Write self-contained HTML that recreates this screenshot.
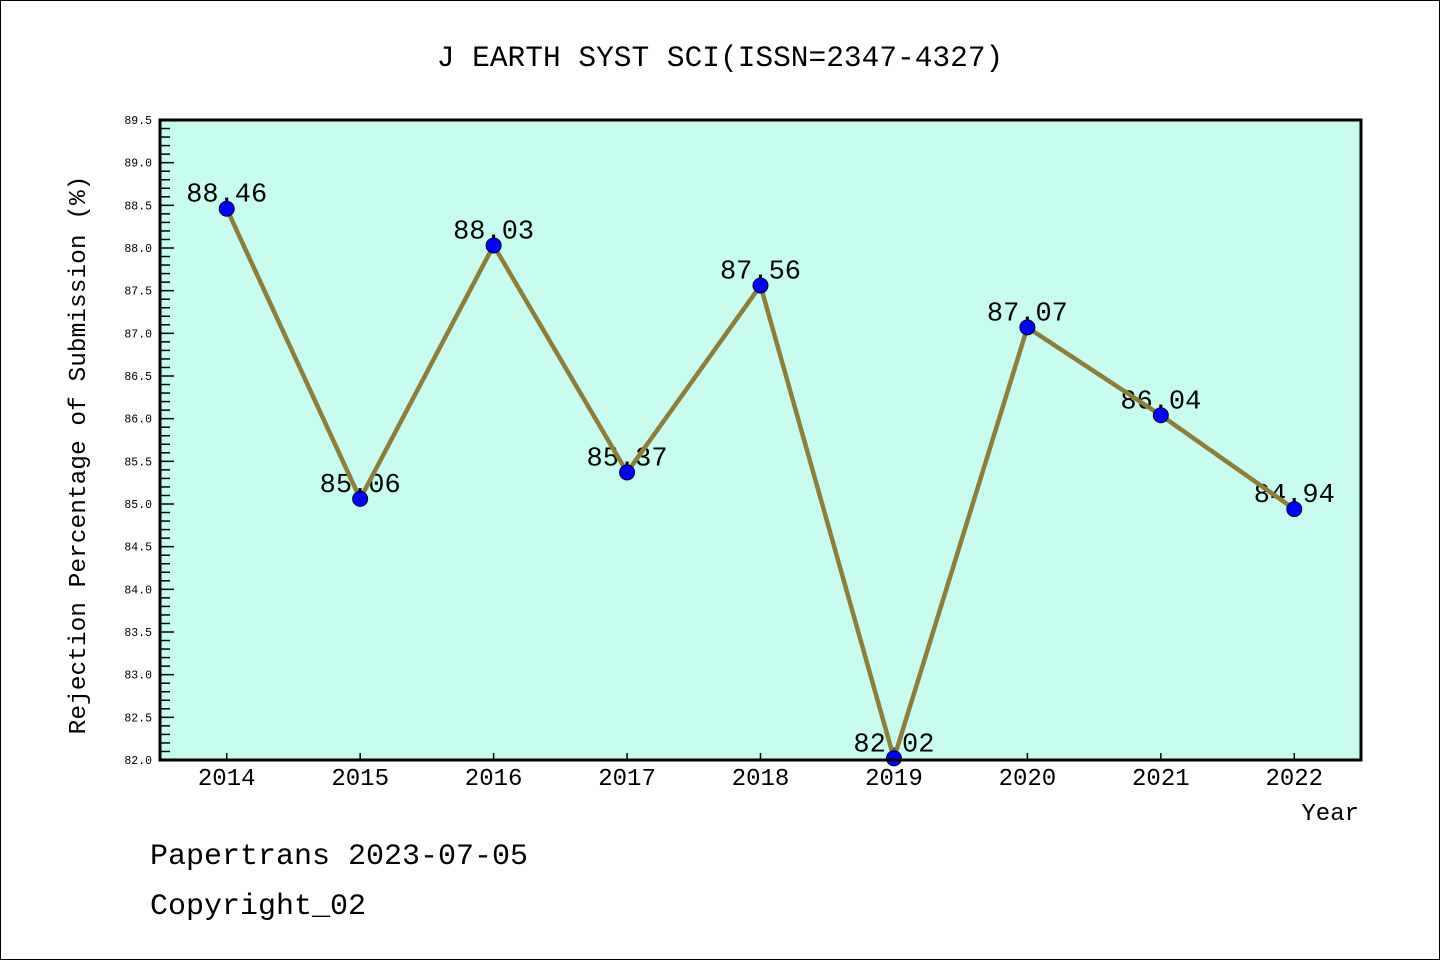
<!DOCTYPE html>
<html><head><meta charset="utf-8"><style>
html,body{margin:0;padding:0;background:#fff;}
svg{display:block;}
text{font-family:"Liberation Mono","DejaVu Sans Mono",monospace;}
</style></head><body>
<svg id="chart" width="1440" height="960" viewBox="0 0 1440 960" xmlns="http://www.w3.org/2000/svg">
<rect x="0.5" y="0.5" width="1439" height="959" fill="#fff" stroke="#000" stroke-width="1"/>
<text x="720" y="66" font-size="29.5" text-anchor="middle">J EARTH SYST SCI(ISSN=2347-4327)</text>
<rect x="160" y="120" width="1201" height="640" fill="#c8fcee"/>
<g id="yaxis"></g>
<g id="xaxis"></g>
<g id="series"></g>
<rect x="160" y="120" width="1201" height="640" fill="none" stroke="#000" stroke-width="3"/>
<text transform="translate(85,455) rotate(-90)" font-size="24.5" text-anchor="middle">Rejection Percentage of Submission (%)</text>
<text x="1359" y="820" font-size="24" text-anchor="end">Year</text>
<text x="150" y="864" font-size="30">Papertrans 2023-07-05</text>
<text x="150" y="914" font-size="30">Copyright_02</text>
</svg>
<script>
const years = ["2014","2015","2016","2017","2018","2019","2020","2021","2022"];
const rates = [88.46,85.06,88.03,85.37,87.56,82.02,87.07,86.04,84.94];
const rateLabels = ["88.46","85.06","88.03","85.37","87.56","82.02","87.07","86.04","84.94"];
const yTickLabels = ["82.0","82.5","83.0","83.5","84.0","84.5","85.0","85.5","86.0","86.5","87.0","87.5","88.0","88.5","89.0","89.5"];
const yMin = 82.0, yMax = 89.5;
const NS = "http://www.w3.org/2000/svg";
const L = 160, R = 1361, T = 120, B = 760;
const step = (R - L) / years.length;
function xS(i){ return L + step/2 + i*step; }
function yS(v){ return B - (v - yMin) / (yMax - yMin) * (B - T); }
function mk(tag, attrs, parent){ const e=document.createElementNS(NS,tag); for(const k in attrs) e.setAttribute(k,attrs[k]); parent.appendChild(e); return e; }
const ya=document.getElementById('yaxis'), xa=document.getElementById('xaxis'), sg=document.getElementById('series');
for(let k=0;k<=Math.round((yMax-yMin)*10);k++){
  const v=yMin+k*0.1, y=yS(v), major=k%5===0;
  const t=mk('line',{x1:L,x2:L+(major?14:10),y1:y,y2:y,stroke:'#000','stroke-width':1.5},ya);
  
  
}
yTickLabels.forEach(s=>{
  const t=mk('text',{x:152,y:yS(parseFloat(s))+4,'font-size':11.5,'text-anchor':'end'},ya);
  t.textContent=s;
  
  
});
years.forEach((yr,i)=>{
  const tk=mk('line',{x1:xS(i),x2:xS(i),y1:B,y2:B-7,stroke:'#000','stroke-width':1.5},xa);
  
  
  const t=mk('text',{x:xS(i),y:785,'font-size':24,'text-anchor':'middle'},xa);
  t.textContent=yr;
  
  
});
rates.forEach((v,i)=>{
  const t=mk('text',{x:xS(i),y:yS(v)-7,'font-size':27,'text-anchor':'middle'},sg);
  t.textContent=rateLabels[i];
  
  
});
const pl=mk('polyline',{points:rates.map((v,i)=>xS(i)+','+yS(v)).join(' '),fill:'none',stroke:'#8d7f3a','stroke-width':4.5,'stroke-linejoin':'miter'},sg);


rates.forEach((v,i)=>{
  const c=mk('circle',{cx:xS(i),cy:yS(v),r:7.5,fill:'#0000ff',stroke:'#000033','stroke-width':1},sg);
  
  
});
</script>
</body></html>
